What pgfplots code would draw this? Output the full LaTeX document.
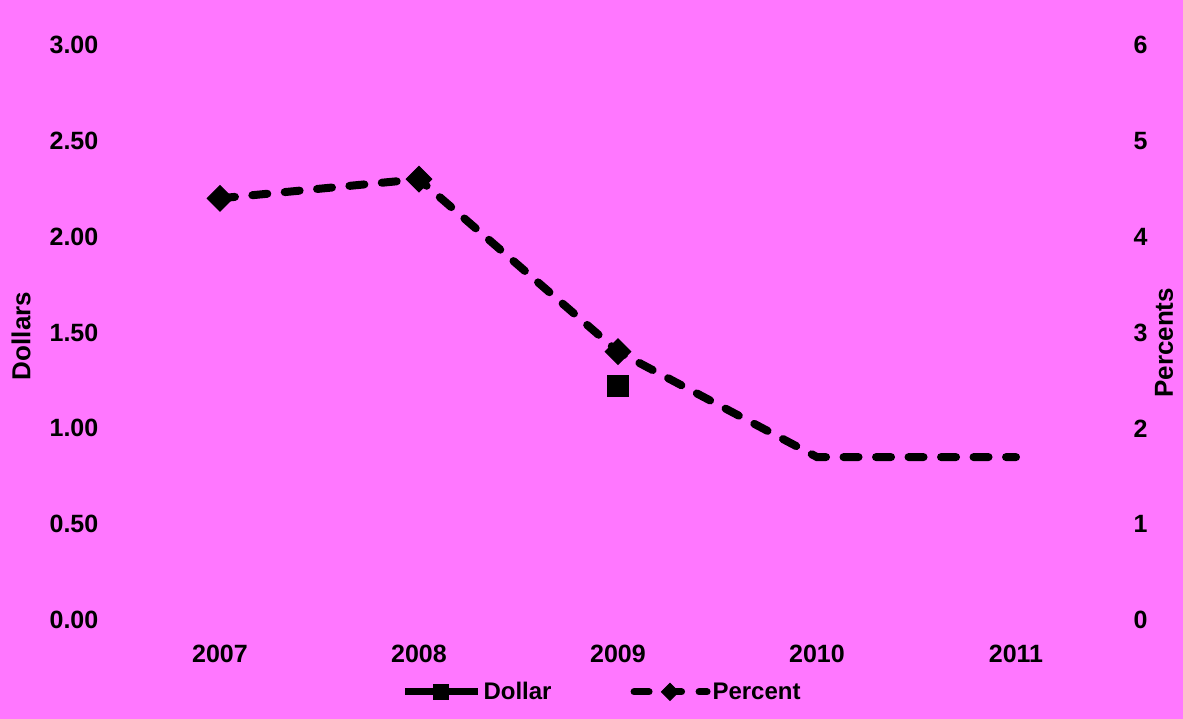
\documentclass[border=0pt]{standalone}
\usepackage{pgfplots}
\pgfplotsset{compat=1.18}
\usepackage{fontspec}
\setmainfont{Liberation Sans}
\definecolor{bg}{RGB}{255,119,255}
\pgfplotsset{
  common/.style={
    at={(120.5pt,99pt)}, anchor=south west,
    scale only axis, width=995pt, height=575pt,
    xmin=2006.5, xmax=2011.5,
    axis line style={draw=none}, major tick length=0pt, minor tick length=0pt,
    tick label style={font=\fontsize{25}{30}\selectfont\bfseries},
    label style={font=\fontsize{26}{30}\selectfont\bfseries},
  },
  legend image code/.code={
    \draw[mark repeat=2,mark phase=2,#1] plot coordinates {(0pt,0pt) (36pt,0pt) (73pt,0pt)};
  },
}
\begin{document}
\begin{tikzpicture}
\fill[bg] (0pt,0pt) rectangle (1183pt,719pt);
\begin{axis}[common,
  axis y line*=left, axis x line*=bottom,
  ymin=0, ymax=3,
  ytick={0,0.5,1,1.5,2,2.5,3},
  yticklabels={0.00,0.50,1.00,1.50,2.00,2.50,3.00},
  xtick={2007,2008,2009,2010,2011},
  xticklabels={2007,2008,2009,2010,2011},
  yticklabel style={anchor=east, inner sep=0pt, xshift=-22pt},
  xticklabel style={anchor=north, inner sep=0pt, yshift=-25pt},
  ylabel={Dollars},
  ylabel style={at={([xshift=-99.5pt]rel axis cs:0,0.494)}, anchor=center, rotate=0},
  legend style={at={(axis description cs:0.484,-0.125)}, anchor=center,
    draw=none, fill=none, legend columns=2,
    font=\fontsize{24}{28}\selectfont\bfseries,
    /tikz/every even column/.append style={column sep=77pt}},
]
\addplot[black, line width=7pt, mark=square*, mark size=10.5pt, mark options={line width=1pt}, forget plot]
  coordinates {(2009,1.22)};
\addlegendimage{black, line width=7pt, mark=square*, mark size=7.5pt, mark options={line width=1pt}}
\addlegendentry{Dollar}
\addlegendimage{black, line width=7pt, line cap=round, dash pattern=on 15pt off 17.5pt,
  mark=square*, mark size=6pt, mark options={solid, rotate=45, line width=1pt}}
\addlegendentry{Percent}
\end{axis}
\begin{axis}[common,
  axis y line*=right, axis x line=none,
  ymin=0, ymax=6,
  ytick={0,1,2,3,4,5,6},
  yticklabels={0,1,2,3,4,5,6},
  yticklabel style={anchor=west, inner sep=0pt, xshift=18pt},
  ylabel={Percents},
  ylabel style={at={([xshift=48.5pt]rel axis cs:1,0.482)}, anchor=center, rotate=0},
]
\addplot[black, line width=8pt, line cap=round, dash pattern=on 15pt off 17.5pt,
  mark=square*, mark size=9pt, mark options={solid, rotate=45, line width=1pt},
  mark indices={1,2,3}]
  coordinates {(2007,4.4) (2008,4.6) (2009,2.8) (2010,1.7) (2011,1.7)};
\end{axis}
\end{tikzpicture}
\end{document}
